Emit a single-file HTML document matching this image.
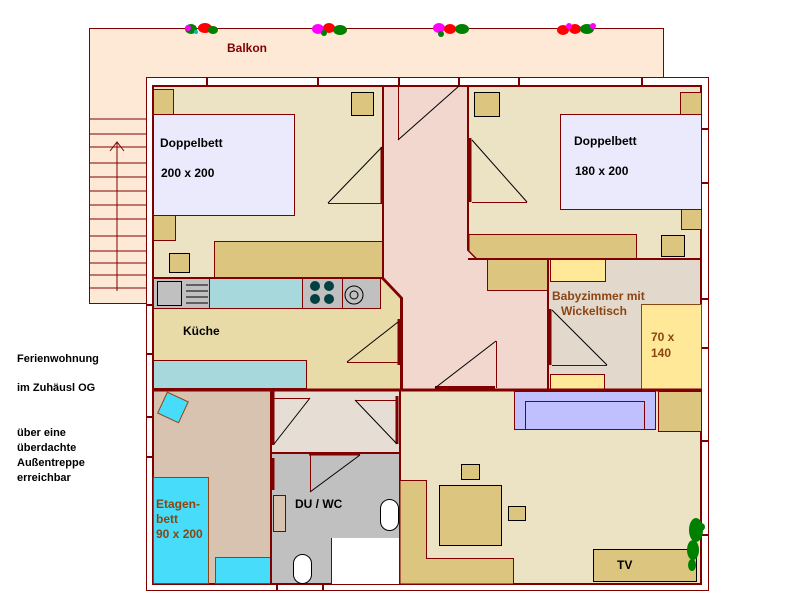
<!DOCTYPE html>
<html><head><meta charset="utf-8"><style>
html,body{margin:0;padding:0;background:#fff;width:785px;height:611px;overflow:hidden}
svg{display:block}
text{font-family:"Liberation Sans",sans-serif;font-weight:bold}
</style></head><body>
<svg width="785" height="611" viewBox="0 0 785 611" xmlns="http://www.w3.org/2000/svg">
<g stroke="#800000" stroke-width="1" fill="none">
<!-- balcony -->
<path d="M89.5 28.5H663.5V77.5H146.5V303.5H89.5Z" fill="#fee9d7"/>
<g stroke-width="1">
<line x1="89" y1="119" x2="146" y2="119"/><line x1="89" y1="134" x2="146" y2="134"/>
<line x1="89" y1="147" x2="146" y2="147"/><line x1="89" y1="163" x2="146" y2="163"/>
<line x1="89" y1="177" x2="146" y2="177"/><line x1="89" y1="191" x2="146" y2="191"/>
<line x1="89" y1="205" x2="146" y2="205"/><line x1="89" y1="219" x2="146" y2="219"/>
<line x1="89" y1="236" x2="146" y2="236"/><line x1="89" y1="251" x2="146" y2="251"/>
<line x1="89" y1="263" x2="146" y2="263"/><line x1="89" y1="275" x2="146" y2="275"/>
<line x1="89" y1="288" x2="146" y2="288"/>
<line x1="117" y1="142" x2="117" y2="291"/>
<polyline points="110,151 117,142 124,151"/>
</g>
<!-- outer wall -->
<rect x="146.5" y="77.5" width="562" height="513" fill="#fff"/>
<rect x="153" y="86" width="548" height="498" fill="#ece3c5" stroke-width="2"/>
<g stroke-width="2">
<line x1="207" y1="77" x2="207" y2="86"/><line x1="318" y1="77" x2="318" y2="86"/>
<line x1="399" y1="77" x2="399" y2="86"/><line x1="459" y1="77" x2="459" y2="86"/>
<line x1="519" y1="77" x2="519" y2="86"/><line x1="642" y1="77" x2="642" y2="86"/>
<line x1="701" y1="129" x2="708" y2="129"/><line x1="701" y1="183" x2="708" y2="183"/>
<line x1="701" y1="299" x2="708" y2="299"/><line x1="701" y1="348" x2="708" y2="348"/>
<line x1="701" y1="441" x2="708" y2="441"/><line x1="701" y1="535" x2="708" y2="535"/>
<line x1="146" y1="305" x2="153" y2="305"/><line x1="146" y1="354" x2="153" y2="354"/>
<line x1="146" y1="417" x2="153" y2="417"/><line x1="146" y1="457" x2="153" y2="457"/>
<line x1="277" y1="584" x2="277" y2="590"/><line x1="323" y1="584" x2="323" y2="590"/>
</g>
<!-- hallway -->
<path d="M383 86H468V250L477 259H548V390H402V298L383 278Z" fill="#f2d7cf" stroke-width="2"/>
<rect x="487.5" y="259.5" width="60" height="31" fill="#dcc67f"/>
<line x1="398.5" y1="86" x2="398.5" y2="140"/>
<line x1="398" y1="140" x2="459" y2="86" stroke="#000"/>
<line x1="435" y1="388" x2="495" y2="388" stroke-width="4"/>
<line x1="496.5" y1="341" x2="496.5" y2="388"/>
<line x1="435" y1="388" x2="496" y2="341" stroke="#000"/>
<!-- bedroom1 -->
<rect x="153.5" y="114.5" width="141" height="101" fill="#eaeafc"/>
<rect x="153.5" y="89.5" width="20" height="25" fill="#dcc67f"/>
<rect x="351.5" y="92.5" width="22" height="23" fill="#dcc67f" stroke="#000"/>
<rect x="153.5" y="215.5" width="22" height="25" fill="#dcc67f"/>
<rect x="169.5" y="253.5" width="20" height="19" fill="#dcc67f" stroke="#000"/>
<rect x="214.5" y="241.5" width="168" height="36" fill="#dcc67f"/>
<line x1="382" y1="147" x2="382" y2="203" stroke-width="3"/>
<line x1="328" y1="203.5" x2="382" y2="203.5"/>
<line x1="328" y1="203" x2="382" y2="147" stroke="#000"/>
<!-- bedroom2 -->
<rect x="560.5" y="114.5" width="141" height="95" fill="#eaeafc"/>
<rect x="474.5" y="92.5" width="25" height="24" fill="#dcc67f" stroke="#000"/>
<rect x="680.5" y="92.5" width="21" height="22" fill="#dcc67f"/>
<rect x="681.5" y="209.5" width="20" height="20" fill="#dcc67f"/>
<rect x="661.5" y="235.5" width="23" height="21" fill="#dcc67f" stroke="#000"/>
<path d="M469 234.5H636.5V259H477L469 251Z" fill="#dcc67f"/>
<line x1="470" y1="138" x2="470" y2="202" stroke-width="3"/>
<line x1="472" y1="202.5" x2="527" y2="202.5"/>
<line x1="472" y1="140" x2="527" y2="202" stroke="#000"/>
<line x1="468" y1="259" x2="701" y2="259" stroke-width="2"/>
<!-- babyzimmer -->
<rect x="548" y="259" width="153" height="131" fill="#e3d8cc" stroke-width="2"/>
<rect x="550.5" y="259.5" width="55" height="22" fill="#ffe897"/>
<rect x="641.5" y="304.5" width="60" height="86" fill="#ffe897" stroke="#8b4513"/>
<rect x="550.5" y="374.5" width="54" height="15" fill="#ffe897"/>
<line x1="550" y1="309" x2="550" y2="365" stroke-width="3"/>
<line x1="552" y1="365.5" x2="607" y2="365.5"/>
<line x1="552" y1="310" x2="607" y2="365" stroke="#000"/>
<!-- kitchen -->
<path d="M153 278H382L401 298V390H153Z" fill="#e8dba8" stroke-width="2"/>
<rect x="153.5" y="278.5" width="56" height="30" fill="#c0c0c0"/>
<rect x="157.5" y="281.5" width="24" height="24" fill="#c0c0c0" stroke="#000"/>
<g stroke="#000"><line x1="186" y1="285" x2="208" y2="285"/><line x1="186" y1="291" x2="208" y2="291"/><line x1="186" y1="297" x2="208" y2="297"/><line x1="186" y1="303" x2="208" y2="303"/></g>
<rect x="209.5" y="278.5" width="93" height="30" fill="#a6d8dc"/>
<rect x="302.5" y="278.5" width="40" height="30" fill="#c0c0c0"/>
<rect x="342.5" y="278.5" width="38" height="30" fill="#c0c0c0"/>
<g fill="#004040" stroke="none"><circle cx="315" cy="286" r="5"/><circle cx="329" cy="286" r="5"/><circle cx="315" cy="299" r="5"/><circle cx="329" cy="299" r="5"/></g>
<circle cx="354" cy="295" r="9" stroke="#000"/><circle cx="354" cy="295" r="4" stroke="#000"/>
<rect x="153.5" y="360.5" width="153" height="28" fill="#a6d8dc"/>
<line x1="399" y1="319" x2="399" y2="365" stroke-width="3"/>
<line x1="347" y1="362.5" x2="398" y2="362.5"/>
<line x1="347" y1="362" x2="398" y2="322" stroke="#000"/>
<!-- kids -->
<rect x="153" y="390" width="118" height="194" fill="#d8c3b0" stroke-width="2"/>
<rect x="153.5" y="477.5" width="55" height="106" fill="#46dcfa" stroke="#8b4513"/>
<rect x="215.5" y="557.5" width="55" height="26" fill="#46dcfa" stroke="#8b4513"/>
<rect x="161" y="397" width="23" height="23" fill="#46dcfa" stroke="#8b4513" transform="rotate(25 175 409)"/>
<!-- vestibule -->
<rect x="271" y="390" width="129" height="63" fill="#e6ddd5" stroke-width="2"/>
<line x1="273" y1="390" x2="273" y2="445" stroke-width="3"/>
<line x1="273" y1="398.5" x2="310" y2="398.5"/>
<line x1="274" y1="444" x2="310" y2="398" stroke="#000"/>
<line x1="397" y1="396" x2="397" y2="444" stroke-width="3"/>
<line x1="355" y1="400.5" x2="397" y2="400.5"/>
<line x1="355" y1="400" x2="397" y2="444" stroke="#000"/>
<!-- bath -->
<rect x="271" y="453" width="129" height="131" fill="#c0c0c0" stroke-width="2"/>
<line x1="309" y1="454" x2="360" y2="454" stroke-width="3"/>
<line x1="310.5" y1="455" x2="310.5" y2="492"/>
<line x1="310" y1="492" x2="360" y2="455" stroke="#000"/>
<line x1="273" y1="458" x2="273" y2="490" stroke-width="3"/>
<rect x="273.5" y="495.5" width="12" height="36" fill="#d8c3b0"/>
<rect x="331" y="538" width="68" height="46" fill="#fff" stroke="none"/>
<line x1="331.5" y1="538" x2="331.5" y2="584"/>
<rect x="380.5" y="499.5" width="18" height="31" rx="9" fill="#fff" stroke="#000"/>
<rect x="293.5" y="554.5" width="18" height="29" rx="9" fill="#fff" stroke="#000"/>
<!-- living -->
<rect x="400" y="390" width="301" height="194" fill="#ece3c5" stroke-width="2"/>
<rect x="514.5" y="391.5" width="141" height="38" fill="#c0c0ff"/>
<rect x="525.5" y="401.5" width="119" height="28" fill="#c0c0ff"/>
<rect x="658.5" y="391.5" width="43" height="40" fill="#dcc67f"/>
<path d="M400 480.5H426.5V558.5H513.5V584H400Z" fill="#dcc67f"/>
<rect x="439.5" y="485.5" width="62" height="60" fill="#dcc67f" stroke="#000"/>
<rect x="461.5" y="464.5" width="18" height="15" fill="#dcc67f" stroke="#000"/>
<rect x="508.5" y="506.5" width="17" height="14" fill="#dcc67f" stroke="#000"/>
<rect x="593.5" y="549.5" width="103" height="32" fill="#dcc67f" stroke="#000"/>
<line x1="153" y1="390" x2="701" y2="390" stroke-width="3"/>
</g>
<!-- plant -->
<g fill="#008000">
<ellipse cx="696" cy="530" rx="7" ry="12"/><ellipse cx="693" cy="550" rx="6" ry="10"/><ellipse cx="692" cy="565" rx="4" ry="6"/><ellipse cx="701" cy="527" rx="4" ry="4"/>
</g>
<!-- flowers -->
<g>
<g transform="translate(185,22)"><ellipse cx="6" cy="7" rx="6" ry="5" fill="#008000"/><ellipse cx="20" cy="6" rx="7" ry="5" fill="#ff0000"/><ellipse cx="28" cy="8" rx="5" ry="4" fill="#008000"/><circle cx="3" cy="6" r="3" fill="#ff00ff"/><circle cx="11" cy="10" r="2" fill="#00c0c0"/></g>
<g transform="translate(312,22)"><ellipse cx="6" cy="7" rx="6" ry="5" fill="#ff00ff"/><ellipse cx="17" cy="6" rx="6" ry="5" fill="#ff0000"/><ellipse cx="28" cy="8" rx="7" ry="5" fill="#008000"/><circle cx="12" cy="11" r="3" fill="#008000"/></g>
<g transform="translate(433,22)"><ellipse cx="6" cy="6" rx="6" ry="5" fill="#ff00ff"/><ellipse cx="17" cy="7" rx="6" ry="5" fill="#ff0000"/><ellipse cx="29" cy="7" rx="7" ry="5" fill="#008000"/><circle cx="8" cy="12" r="3" fill="#008000"/></g>
<g transform="translate(557,22)"><ellipse cx="6" cy="8" rx="6" ry="5" fill="#ff0000"/><ellipse cx="18" cy="7" rx="6" ry="5" fill="#ff0000"/><ellipse cx="30" cy="7" rx="7" ry="5" fill="#008000"/><circle cx="12" cy="4" r="3" fill="#ff00ff"/><circle cx="36" cy="4" r="3" fill="#ff00ff"/></g>
</g>
<!-- text -->
<g font-size="12">
<text x="227" y="52" fill="#800000">Balkon</text>
<text x="160" y="147" fill="#000">Doppelbett</text>
<text x="161" y="177" fill="#000">200 x 200</text>
<text x="574" y="145" fill="#000">Doppelbett</text>
<text x="575" y="175" fill="#000">180 x 200</text>
<text x="183" y="335" fill="#000">Küche</text>
<text x="552" y="300" fill="#8b4513">Babyzimmer mit</text>
<text x="561" y="315" fill="#8b4513">Wickeltisch</text>
<text x="651" y="341" fill="#8b4513">70 x</text>
<text x="651" y="357" fill="#8b4513">140</text>
<text x="156" y="508" fill="#8b4513">Etagen-</text>
<text x="156" y="523" fill="#8b4513">bett</text>
<text x="156" y="538" fill="#8b4513">90 x 200</text>
<text x="295" y="508" fill="#000">DU / WC</text>
<text x="617" y="569" fill="#000">TV</text>
</g>
<g font-size="11" fill="#000">
<text x="17" y="362">Ferienwohnung</text>
<text x="17" y="391">im Zuhäusl  OG</text>
<text x="17" y="436">über eine</text>
<text x="17" y="451">überdachte</text>
<text x="17" y="466">Außentreppe</text>
<text x="17" y="481">erreichbar</text>
</g>
</svg>
</body></html>
